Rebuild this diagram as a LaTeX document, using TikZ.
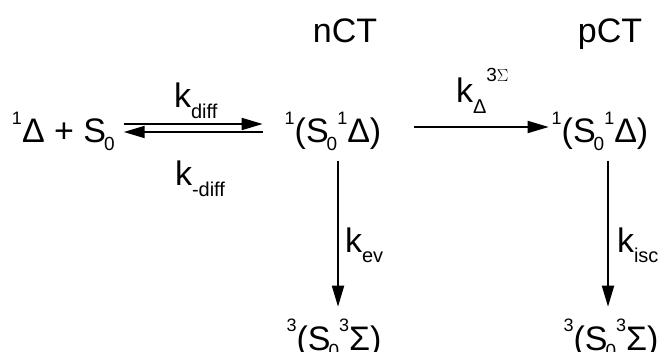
\documentclass[tikz,border=0pt]{standalone}
\usepackage{fontspec}
\setmainfont{Liberation Sans}
\usetikzlibrary{arrows.meta}
\newcommand{\hi}[1]{\raisebox{0.55em}{\fontsize{18}{20}\selectfont #1}}
\newcommand{\lo}[1]{\kern-2pt\raisebox{-0.22em}{\fontsize{19}{20}\selectfont #1}}
\newcommand{\lox}[1]{\raisebox{-0.3em}{\fontsize{20}{22}\selectfont #1}}
\begin{document}
\begin{tikzpicture}[x=1pt,y=1pt,
  lbl/.style={inner sep=0pt, outer sep=0pt, font=\fontsize{34}{40}\selectfont},
  klbl/.style={inner sep=0pt, outer sep=0pt, anchor=base west, font=\fontsize{34}{40}\selectfont},
  arr/.style={line width=1.8pt, -{Triangle[length=21pt,width=12pt]}}]
\useasboundingbox (0,0) rectangle (658,351);
% states
\node[lbl, anchor=base west] (L) at (12,208) {\hi{1}Δ + S\lo{0}};
\node[lbl, anchor=base] (M) at (333,208) {\hi{1}(S\lo{0}\hi{1}Δ)};
\node[lbl, anchor=base] (R) at (600,208) {\hi{1}(S\lo{0}\hi{1}Δ)};
\node[lbl, anchor=base] (B1) at (334,1) {\hi{3}(S\lo{0}\hi{3}Σ)};
\node[lbl, anchor=base] (B2) at (611,1) {\hi{3}(S\lo{0}\hi{3}Σ)};
% headers
\node[lbl, anchor=base] (nCT) at (345,308) {nCT};
\node[lbl, anchor=base] (pCT) at (610,308) {pCT};
% rate labels
\node[klbl] (kdiff) at (174,243) {k\lox{diff}};
\node[klbl] (kmdiff) at (175,165) {k\lox{-diff}};
\node[klbl] (kD) at (456,248) {k\lox{Δ}\raisebox{0.62em}{\fontsize{19}{20}\selectfont 3$\Sigma$}};
\node[klbl] (kev) at (345,99) {k\lox{ev}};
\node[klbl] (kisc) at (617,99) {k\lox{isc}};
% connectors
\coordinate (yt) at (0,227);
\coordinate (yb) at (0,219);
\coordinate (yh) at (0,224);
\draw[arr, shorten <=9pt, shorten >=22pt] (L.east |- yt) -- (M.west |- yt);
\draw[arr, shorten <=22pt, shorten >=9pt] (M.west |- yb) -- (L.east |- yb);
\draw[arr, shorten <=33pt, shorten >=3pt] (M.east |- yh) -- (R.west |- yh);
\draw[arr, shorten <=10pt, shorten >=12pt] ([xshift=5pt]M.south) -- ([xshift=4pt]B1.north);
\draw[arr, shorten <=10pt, shorten >=12pt] ([xshift=8pt]R.south) -- ([xshift=-3pt]B2.north);
\end{tikzpicture}
\end{document}
